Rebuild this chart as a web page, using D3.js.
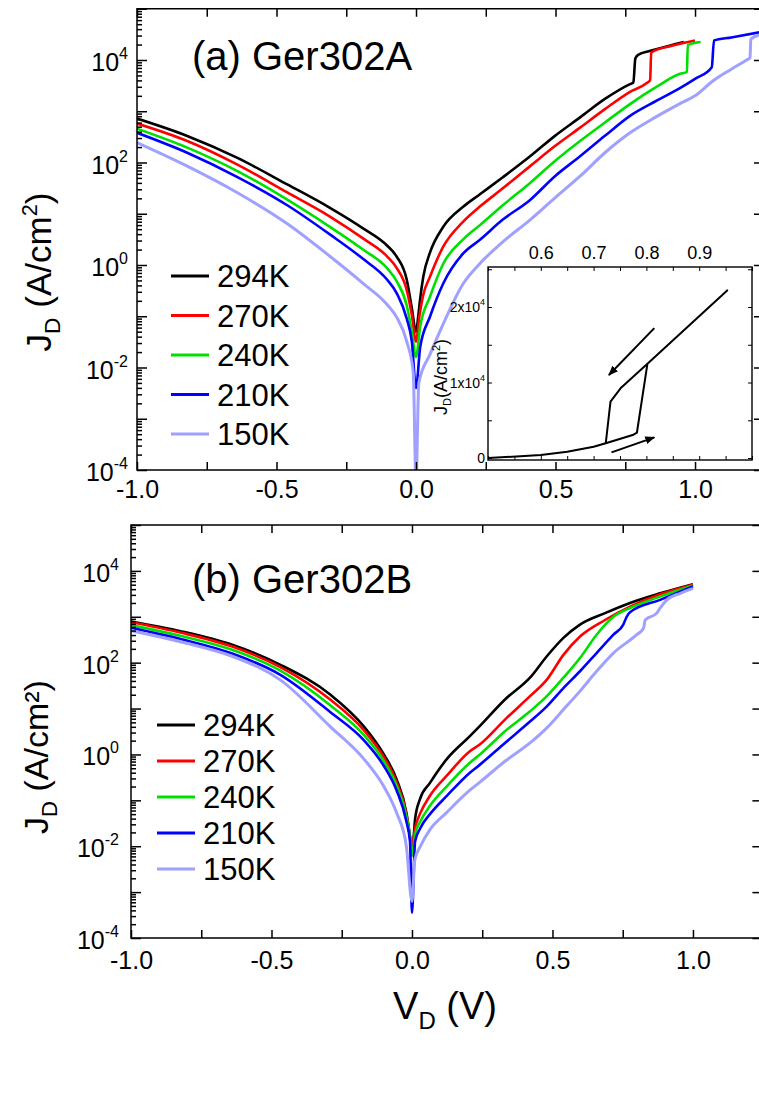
<!DOCTYPE html>
<html><head><meta charset="utf-8">
<script src="https://cdn.jsdelivr.net/npm/d3@7"></script>
<style>body{margin:0;background:#fff} text{font-family:Arial,"Liberation Sans",sans-serif;fill:#000}</style>
</head><body>
<svg id="c" width="759" height="1097"></svg>
<script>
// ---------- DATA ----------
const temperatures = ["294K","270K","240K","210K","150K"];
const xTickValues = [-1,-0.75,-0.5,-0.25,0,0.25,0.5,0.75,1.0];
const xLabelValues = [-1,-0.5,0,0.5,1.0];
const yLabelExponents = [4,2,0,-2,-4];

// Panel (a) Ger302A : [V_D (V), J_D (A/cm^2)]
const A294K = [[-1.0,7.2e2],[-0.82,3.3e2],[-0.64,1.23e2],[-0.46,3.7e1],[-0.31,1.32e1],[-0.19,5.2],[-0.104,2.4],[-0.069,1.45],[-0.033,0.51],[-0.0155,0.15],[0,0.05],[0.008,0.1],[0.014,0.2],[0.026,0.59],[0.05,1.74],[0.098,5.6],[0.17,13.8],[0.229,24],[0.31,51],[0.409,132],[0.498,331],[0.588,759],[0.677,1740],[0.767,3390],[0.779,3630],[0.786,1.07e4],[0.796,1.26e4],[0.84,1.51e4],[0.93,2.04e4],[0.96,2.24e4]];
const A270K = [[-1.0,5.75e2],[-0.82,2.63e2],[-0.64,91],[-0.46,25.7],[-0.31,8.9],[-0.19,3.3],[-0.104,1.48],[-0.069,0.87],[-0.033,0.32],[-0.0155,0.11],[0,0.032],[0.012,0.1],[0.025,0.25],[0.05,0.59],[0.098,2.3],[0.17,7.1],[0.229,13.8],[0.31,31],[0.409,85],[0.498,209],[0.588,479],[0.677,1100],[0.767,2400],[0.827,3550],[0.839,4070],[0.843,1.41e4],[0.92,1.91e4],[1.0,2.4e4]];
const A240K = [[-1.0,4.57e2],[-0.82,1.95e2],[-0.64,68],[-0.46,18.6],[-0.31,5.6],[-0.19,2.0],[-0.104,0.87],[-0.069,0.48],[-0.033,0.16],[-0.015,0.05],[0,0.016],[0.015,0.063],[0.05,0.24],[0.098,1.07],[0.17,3.2],[0.229,6.0],[0.31,14.5],[0.409,40],[0.498,107],[0.588,263],[0.677,603],[0.767,1380],[0.857,2880],[0.946,5370],[0.971,5890],[0.974,1.95e4],[1.02,2.24e4]];
const A210K = [[-1.0,3.8e2],[-0.82,1.55e2],[-0.64,52],[-0.46,14.5],[-0.31,4.0],[-0.19,1.32],[-0.104,0.52],[-0.069,0.28],[-0.033,0.089],[-0.015,0.032],[0,0.004],[0.015,0.025],[0.05,0.098],[0.098,0.44],[0.17,1.7],[0.229,3.1],[0.31,7.6],[0.409,18.6],[0.498,54],[0.588,132],[0.677,331],[0.767,813],[0.857,1550],[0.946,2820],[1.0,4270],[1.06,7240],[1.068,2.4e4],[1.13,2.75e4],[1.24,3.55e4]];
const A150K = [[-1.0,2.45e2],[-0.82,85],[-0.64,25.7],[-0.46,6.3],[-0.31,1.5],[-0.19,0.44],[-0.104,0.17],[-0.069,0.095],[-0.033,0.032],[-0.01,0.008],[0,6e-5],[0.01,0.005],[0.05,0.018],[0.098,0.072],[0.17,0.44],[0.229,1.07],[0.31,2.8],[0.409,7.6],[0.498,20.4],[0.588,54],[0.677,155],[0.767,380],[0.857,759],[0.946,1410],[1.0,2000],[1.066,3980],[1.13,6610],[1.185,1.0e4],[1.197,1.1e4],[1.2,2.57e4],[1.24,3.16e4]];

// Panel (b) Ger302B
const B294K = [[-1.0,7.9e2],[-0.82,4.8e2],[-0.64,2.45e2],[-0.47,91],[-0.29,20],[-0.17,4.0],[-0.10,1.0],[-0.055,0.29],[-0.02,0.054],[-0.007,0.016],[0,0.0063],[0.011,0.039],[0.028,0.105],[0.064,0.24],[0.123,0.78],[0.206,2.5],[0.242,4.2],[0.331,15.8],[0.42,47],[0.48,138],[0.539,347],[0.598,676],[0.687,1200],[0.776,2000],[0.883,3240],[1.0,5130]];
const B270K = [[-1.0,7.6e2],[-0.82,4.47e2],[-0.64,2.24e2],[-0.47,81],[-0.29,15.5],[-0.17,3.3],[-0.10,0.87],[-0.055,0.25],[-0.02,0.05],[-0.007,0.016],[0,0.01],[0.011,0.025],[0.028,0.05],[0.064,0.126],[0.123,0.34],[0.206,1.17],[0.242,1.66],[0.331,5.75],[0.42,18.6],[0.48,42.7],[0.539,148],[0.598,372],[0.687,851],[0.776,1660],[0.883,3090],[1.0,5010]];
const B240K = [[-1.0,6.6e2],[-0.82,3.8e2],[-0.64,1.91e2],[-0.47,68],[-0.29,11.7],[-0.17,2.6],[-0.10,0.71],[-0.055,0.21],[-0.02,0.045],[-0.007,0.016],[0,0.0063],[0.011,0.018],[0.03,0.035],[0.064,0.076],[0.123,0.2],[0.206,0.66],[0.242,1.0],[0.331,3.2],[0.42,8.7],[0.48,18.6],[0.539,47],[0.598,126],[0.657,407],[0.717,1000],[0.776,1550],[0.883,2750],[1.0,4790]];
const B210K = [[-1.0,5.75e2],[-0.82,3.24e2],[-0.64,1.58e2],[-0.47,55],[-0.29,8.3],[-0.17,2.0],[-0.10,0.56],[-0.055,0.166],[-0.02,0.035],[-0.007,0.0126],[0,3.5e-4],[0.011,0.0126],[0.03,0.025],[0.064,0.05],[0.123,0.123],[0.206,0.4],[0.242,0.6],[0.331,1.78],[0.42,5.2],[0.48,11.2],[0.539,28],[0.598,65],[0.657,162],[0.717,407],[0.752,676],[0.764,1000],[0.776,1260],[0.883,2340],[1.0,4570]];
const B150K = [[-1.0,5.0e2],[-0.82,2.82e2],[-0.64,1.38e2],[-0.47,42.7],[-0.29,4.0],[-0.17,0.78],[-0.10,0.2],[-0.055,0.054],[-0.02,0.01],[0,6.3e-4],[0.01,0.005],[0.03,0.01],[0.064,0.023],[0.123,0.054],[0.206,0.166],[0.242,0.25],[0.331,0.71],[0.42,1.78],[0.48,3.8],[0.539,9.5],[0.598,24],[0.657,65],[0.717,162],[0.80,407],[0.824,562],[0.83,851],[0.871,1200],[0.883,1550],[0.907,2340],[0.955,3240],[1.0,4170]];

// Inset (294K, Ger302A sweep up and down), linear J
const insetSweep = [[0.50,0],[0.60,400],[0.65,830],[0.70,1500],[0.723,1950],[0.774,3050],[0.782,3350],[0.802,12500],[0.953,22200],[0.802,12500],[0.751,9230],[0.732,7460],[0.723,1950]];
const insetArrowDown = [[0.815,17200],[0.729,11000]];
const insetArrowUp = [[0.734,755],[0.815,2740]];
const insetXLabels = [0.6,0.7,0.8,0.9];
const insetYLabels = [0,1e4,2e4];

// ---------- STYLE ----------
const colors = ["#000000","#ff0000","#00e000","#0000ff","#a0a0ff"];
const widths = [2.6,2.6,2.6,2.6,3];
const svg = d3.select("#c");
const fmtX = v => d3.format(".1f")(v).replace("\u2212","-");

function styleAxis(sel){
  sel.select(".domain").remove();
  sel.selectAll(".tick line").attr("stroke","#000").attr("stroke-width",1.5);
  sel.selectAll(".tick text").attr("font-size",25).attr("fill","#000").attr("font-family","Arial, 'Liberation Sans', sans-serif");
}

function panel(cfg){
  const g = svg.append("g");
  const x = d3.scaleLinear().domain([-1,1.24]).range([cfg.left,cfg.right]);
  const y = d3.scaleLog().domain([1e-4,1e5]).range([cfg.bottom,cfg.top]);
  svg.append("clipPath").attr("id","clip"+cfg.id).append("rect")
    .attr("x",cfg.left).attr("y",cfg.top).attr("width",cfg.right-cfg.left).attr("height",cfg.bottom-cfg.top);
  const line = d3.line().x(d=>x(d[0])).y(d=>y(d[1])).curve(d3.curveMonotoneX);
  const cg = g.append("g").attr("clip-path",`url(#clip${cfg.id})`);
  cfg.series.forEach((s,i)=>cg.append("path").attr("d",line(s)).attr("fill","none")
    .attr("stroke",colors[i]).attr("stroke-width",widths[i]).attr("stroke-linejoin","round"));

  g.append("rect").attr("x",cfg.left).attr("y",cfg.top).attr("width",cfg.right-cfg.left)
    .attr("height",cfg.bottom-cfg.top).attr("fill","none").attr("stroke","#000").attr("stroke-width",1.5);

  const isLab = d => xLabelValues.some(v=>Math.abs(v-d)<1e-9);
  g.append("g").attr("transform",`translate(0,${cfg.bottom})`)
    .call(d3.axisBottom(x).tickValues(xTickValues).tickSize(-8).tickSizeOuter(0).tickPadding(cfg.xPad).tickFormat(d=>isLab(d)?fmtX(d):""))
    .call(styleAxis);
  g.append("g").attr("transform",`translate(0,${cfg.top})`)
    .call(d3.axisTop(x).tickValues(xTickValues).tickSize(-8).tickSizeOuter(0).tickFormat(""))
    .call(styleAxis);
  const decades = d3.range(-4,6).map(e=>Math.pow(10,e));
  const minors = [];
  d3.range(-4,5).forEach(e=>{for(let m=2;m<=9;m++) minors.push(m*Math.pow(10,e));});
  g.append("g").attr("transform",`translate(${cfg.left},0)`)
    .call(d3.axisLeft(y).tickValues(decades).tickSize(-10).tickSizeOuter(0).tickFormat(""))
    .call(styleAxis);
  g.append("g").attr("transform",`translate(${cfg.left},0)`)
    .call(d3.axisLeft(y).tickValues(minors).tickSize(-5).tickSizeOuter(0).tickFormat(""))
    .call(styleAxis);
  g.append("g").attr("transform",`translate(${cfg.right},0)`)
    .call(d3.axisRight(y).tickValues(decades).tickSize(-8).tickSizeOuter(0).tickFormat(""))
    .call(styleAxis);

  const yl = g.selectAll(".ylab").data(yLabelExponents).join("text")
    .attr("x",cfg.left-cfg.yGap).attr("y",d=>y(Math.pow(10,d))+11).attr("text-anchor","end").attr("font-size",25);
  yl.append("tspan").text("10");
  yl.append("tspan").attr("dy",-12).attr("font-size",16).text(d=>String(d));

  g.append("text").attr("x",192).attr("y",cfg.titleY).attr("font-size",40).text(cfg.title);

  const lg = g.append("g");
  temperatures.forEach((t,i)=>{
    const yy = cfg.legY + i*cfg.legStep;
    lg.append("line").attr("x1",cfg.legX).attr("x2",cfg.legX+38).attr("y1",yy).attr("y2",yy)
      .attr("stroke",colors[i]).attr("stroke-width",3);
    lg.append("text").attr("x",cfg.legX+46).attr("y",yy+11).attr("font-size",31).text(t);
  });

  const ylab = g.append("text").attr("transform",`translate(${cfg.yLabX},${cfg.yLabY}) rotate(-90)`)
    .attr("text-anchor","middle").attr("font-size",cfg.yLabSize);
  ylab.append("tspan").text("J");
  ylab.append("tspan").attr("dy",9).attr("font-size",cfg.yLabSize*0.65).text("D");
  if(cfg.id==="a"){
    ylab.append("tspan").attr("dy",-9).text(" (A/cm");
    ylab.append("tspan").attr("dy",-14).attr("font-size",cfg.yLabSize*0.62).text("2");
    ylab.append("tspan").attr("dy",14).text(")");
  } else {
    ylab.append("tspan").attr("dy",-9).text(" (A/cm\u00B2)");
  }
  return {x,y,g};
}

panel({id:"a",left:137,right:762,top:8.75,bottom:470,series:[A294K,A270K,A240K,A210K,A150K],
  xPad:10,yGap:9,title:"(a) Ger302A",titleY:70,legX:171,legY:276,legStep:39.5,yLabX:51,yLabY:272,yLabSize:35});
panel({id:"b",left:131,right:760.4,top:525,bottom:938,series:[B294K,B270K,B240K,B210K,B150K],
  xPad:13,yGap:12,title:"(b) Ger302B",titleY:593,legX:157,legY:725,legStep:36,yLabX:48,yLabY:757,yLabSize:34});

const xl = svg.append("text").attr("x",445).attr("y",1019).attr("text-anchor","middle").attr("font-size",38);
xl.append("tspan").text("V");
xl.append("tspan").attr("dy",10).attr("font-size",24).text("D");
xl.append("tspan").attr("dy",-10).text(" (V)");

// ---------- INSET ----------
const ix = d3.scaleLinear().domain([0.5,1.0]).range([488,752]);
const iy = d3.scaleLinear().domain([-260,25300]).range([460,267]);
const ig = svg.append("g");
ig.append("rect").attr("x",488).attr("y",267).attr("width",264).attr("height",193).attr("fill","#fff");
const ixt = d3.range(0.5,1.0001,0.05);
ig.append("g").attr("transform","translate(0,267)")
  .call(d3.axisTop(ix).tickValues(ixt).tickSize(-4).tickSizeOuter(0).tickPadding(8).tickFormat(d=>insetXLabels.some(v=>Math.abs(v-d)<1e-6)?d3.format(".1f")(d):""))
  .call(s=>{s.select(".domain").remove();s.selectAll(".tick line").attr("stroke","#000").attr("stroke-width",1);
    s.selectAll(".tick text").attr("font-size",18).attr("fill","#000");});
ig.append("g").attr("transform","translate(0,460)")
  .call(d3.axisBottom(ix).tickValues(ixt).tickSize(-4).tickSizeOuter(0).tickFormat(""))
  .call(s=>{s.select(".domain").remove();s.selectAll(".tick line").attr("stroke","#000").attr("stroke-width",1);});
const iyt = [0,5000,10000,15000,20000,25000];
ig.append("g").attr("transform","translate(488,0)")
  .call(d3.axisLeft(iy).tickValues(iyt).tickSize(-4).tickSizeOuter(0).tickFormat(""))
  .call(s=>{s.select(".domain").remove();s.selectAll(".tick line").attr("stroke","#000").attr("stroke-width",1);});
ig.append("g").attr("transform","translate(752,0)")
  .call(d3.axisRight(iy).tickValues(iyt).tickSize(-4).tickSizeOuter(0).tickFormat(""))
  .call(s=>{s.select(".domain").remove();s.selectAll(".tick line").attr("stroke","#000").attr("stroke-width",1);});
ig.append("rect").attr("x",488).attr("y",267).attr("width",264).attr("height",193).attr("fill","none").attr("stroke","#000").attr("stroke-width",1.4);
const iyl = ig.selectAll(".iyl").data(insetYLabels).join("text").attr("x",485).attr("y",d=>iy(d)+5).attr("text-anchor","end").attr("font-size",14);
iyl.append("tspan").text(d=>d===0?"0":(d/1e4)+"x10");
iyl.append("tspan").attr("dy",-7).attr("font-size",9).text(d=>d===0?"":"4");
const iyLab = ig.append("text").attr("transform","translate(447,377) rotate(-90)").attr("text-anchor","middle").attr("font-size",18);
iyLab.append("tspan").text("J");
iyLab.append("tspan").attr("dy",4).attr("font-size",11).text("D");
iyLab.append("tspan").attr("dy",-4).text("(A/cm");
iyLab.append("tspan").attr("dy",-7).attr("font-size",11).text("2");
iyLab.append("tspan").attr("dy",7).text(")");
const iline = d3.line().x(d=>ix(d[0])).y(d=>iy(d[1]));
ig.append("path").attr("d",iline(insetSweep)).attr("fill","none").attr("stroke","#000").attr("stroke-width",2).attr("stroke-linejoin","round");
svg.append("defs").append("marker").attr("id","ah").attr("viewBox","0 0 10 10").attr("refX",9).attr("refY",5)
  .attr("markerWidth",5).attr("markerHeight",5).attr("orient","auto")
  .append("path").attr("d","M0,1 L10,5 L0,9 Z").attr("fill","#000");
[insetArrowDown,insetArrowUp].forEach(a=>ig.append("path").attr("d",iline(a)).attr("stroke","#000").attr("stroke-width",2).attr("fill","none").attr("marker-end","url(#ah)"));
</script>
</body></html>
